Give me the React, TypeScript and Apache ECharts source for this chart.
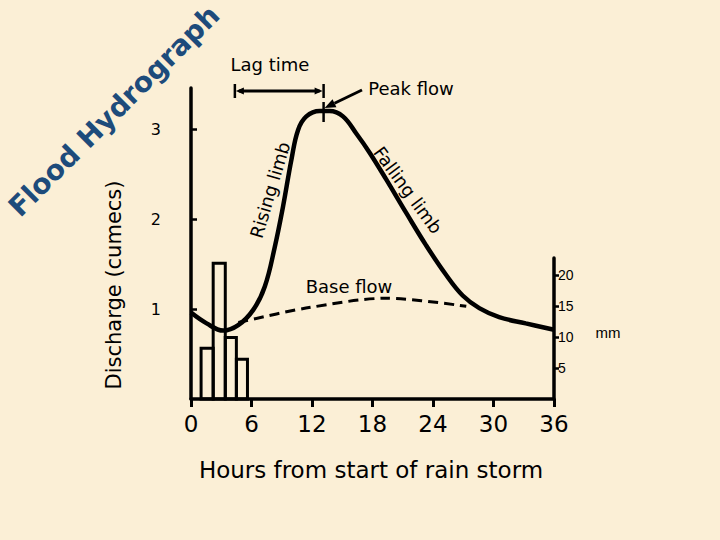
import React, { useEffect, useRef } from "react";
import * as echarts from "echarts";

// Hours from start of rain storm (x), discharge in cumecs (left y), rainfall in mm (right y)
const hourTicks = [0, 6, 12, 18, 24, 30, 36];
const dischargeTicks = [1, 2, 3];
const rainTicks = [5, 10, 15, 20];

// storm hydrograph: [hour, discharge]
const dischargeCurve: [number, number][] = [
  [0, 0.96], [1.55, 0.84], [3.2, 0.76], [4.68, 0.82], [6.17, 0.99], [7.32, 1.25],
  [8.31, 1.69], [9.13, 2.14], [9.96, 2.66], [10.62, 2.99], [11.44, 3.14], [12.76, 3.2],
  [13.75, 3.2], [15.07, 3.14], [16.39, 2.95], [17.7, 2.74], [19.36, 2.44], [21.33, 2.07],
  [23.3, 1.71], [25.29, 1.38], [26.94, 1.15], [28.59, 1.01], [30.56, 0.91], [33.2, 0.84],
  [36, 0.77],
];

// base flow (dashed): [hour, discharge]
const baseFlow: [number, number][] = [
  [4.7, 0.85], [11.4, 1.01], [19.4, 1.12], [27.3, 1.03],
];

// rainfall bars: [start hour, end hour, mm]
const rainfall: [number, number, number][] = [
  [1.0, 2.2, 8.2],
  [2.2, 3.4, 21.9],
  [3.4, 4.5, 9.9],
  [4.5, 5.6, 6.4],
];

const lagStartHour = 4.35;
const peakHour = 13.15;
const peakDischarge = 3.2;

const FONT = "DejaVu Sans";

export default function App() {
  const ref = useRef<HTMLDivElement>(null);

  useEffect(() => {
    if (!ref.current) return;
    const chart = echarts.init(ref.current, undefined, { renderer: "svg" });

    const option: any = {
      animation: false,
      backgroundColor: "#FBEFD6",
      grid: [
        { left: 191, top: 88, width: 363, height: 311 },
        { left: 191, top: 258, width: 363, height: 141 },
      ],
      xAxis: [
        {
          type: "value",
          gridIndex: 0,
          min: 0,
          max: 36,
          interval: 6,
          axisLine: { show: true, onZero: false, lineStyle: { color: "#000", width: 3.5 } },
          axisTick: { show: true, length: 8, customValues: hourTicks, lineStyle: { color: "#000", width: 3 } },
          axisLabel: { color: "#000", fontSize: 23, fontFamily: FONT, margin: 13, customValues: hourTicks },
          splitLine: { show: false },
        },
        { type: "value", gridIndex: 1, min: 0, max: 36, show: false },
      ],
      yAxis: [
        {
          type: "value",
          gridIndex: 0,
          min: 0,
          max: 311 / 90,
          axisLine: { show: true, onZero: false, lineStyle: { color: "#000", width: 3.5 } },
          axisTick: { show: true, inside: true, length: 6, customValues: dischargeTicks, lineStyle: { color: "#000", width: 2.5 } },
          axisLabel: { customValues: dischargeTicks, color: "#000", fontSize: 16, fontFamily: FONT, margin: 30 },
          splitLine: { show: false },
        },
        {
          type: "value",
          gridIndex: 1,
          position: "right",
          min: 0,
          max: 141 / 6.2,
          axisLine: { show: true, onZero: false, lineStyle: { color: "#000", width: 3.5 } },
          axisTick: { show: true, length: 5, customValues: rainTicks, lineStyle: { color: "#000", width: 2.5 } },
          axisLabel: { customValues: rainTicks, color: "#000", fontSize: 14, fontFamily: "Liberation Sans", margin: 4 },
          splitLine: { show: false },
        },
      ],
      series: [
        {
          type: "custom",
          xAxisIndex: 1,
          yAxisIndex: 1,
          data: rainfall,
          encode: { x: [0, 1], y: 2 },
          renderItem: (params: any, api: any) => {
            const s = api.coord([api.value(0), 0]);
            const e = api.coord([api.value(1), api.value(2)]);
            return {
              type: "rect",
              shape: { x: s[0], y: e[1], width: e[0] - s[0], height: s[1] - e[1] },
              style: { fill: "transparent", stroke: "#000", lineWidth: 3 },
            };
          },
        },
        {
          type: "line",
          xAxisIndex: 0,
          yAxisIndex: 0,
          data: dischargeCurve,
          smooth: 0.4,
          showSymbol: false,
          lineStyle: { color: "#000", width: 4.5 },
        },
        {
          type: "line",
          xAxisIndex: 0,
          yAxisIndex: 0,
          data: baseFlow,
          smooth: 0.3,
          showSymbol: false,
          lineStyle: { color: "#000", width: 3, type: [10, 6] },
        },
      ],
    };
    chart.setOption(option);

    const px = (h: number, v: number) =>
      chart.convertToPixel({ xAxisIndex: 0, yAxisIndex: 0 }, [h, v]) as number[];
    const lagA = px(lagStartHour, 0);
    const peak = px(peakHour, peakDischarge);
    const x1 = lagA[0];
    const x2 = peak[0];
    const ly = 91;

    const tip = [peak[0] + 1, peak[1] - 3];
    const from = [362, 90];
    const dx = tip[0] - from[0];
    const dy = tip[1] - from[1];
    const len = Math.hypot(dx, dy);
    const ux = dx / len;
    const uy = dy / len;
    const bx = tip[0] - ux * 11;
    const by = tip[1] - uy * 11;
    const pxp = -uy * 4.5;
    const pyp = ux * 4.5;

    const txt = (text: string, x: number, y: number, size: number, extra: any = {}) => ({
      type: "text",
      x,
      y,
      rotation: extra.rotation || 0,
      style: {
        text,
        fontSize: size,
        fontFamily: extra.fontFamily || FONT,
        fontWeight: extra.fontWeight || "normal",
        fill: extra.fill || "#000",
        align: "center",
        verticalAlign: "middle",
      },
    });

    chart.setOption({
      graphic: [
        txt("Flood Hydrograph", 114, 111, 28, { rotation: Math.PI / 4, fontWeight: "bold", fill: "#1D4B7B" }),
        txt("Lag time", 270, 64, 18),
        txt("Peak flow", 411, 88, 18),
        txt("Base flow", 349, 286, 18),
        txt("Rising limb", 270, 190, 18, { rotation: 1.28 }),
        txt("Falling limb", 408, 190, 18, { rotation: -0.94 }),
        txt("Hours from start of rain storm", 371, 470, 23),
        txt("Discharge (cumecs)", 114, 285, 21, { rotation: Math.PI / 2 }),
        txt("mm", 608, 332, 15, { fontFamily: "Liberation Sans" }),
        { type: "line", shape: { x1: x1 + 4, y1: ly, x2: x2 - 4, y2: ly }, style: { stroke: "#000", lineWidth: 3 } },
        { type: "line", shape: { x1: x1, y1: ly - 7, x2: x1, y2: ly + 7 }, style: { stroke: "#000", lineWidth: 2.5 } },
        { type: "line", shape: { x1: x2, y1: ly - 7, x2: x2, y2: ly + 7 }, style: { stroke: "#000", lineWidth: 2.5 } },
        { type: "polygon", shape: { points: [[x1 + 1, ly], [x1 + 9, ly - 3.5], [x1 + 9, ly + 3.5]] }, style: { fill: "#000" } },
        { type: "polygon", shape: { points: [[x2 - 1, ly], [x2 - 9, ly - 3.5], [x2 - 9, ly + 3.5]] }, style: { fill: "#000" } },
        { type: "line", shape: { x1: peak[0], y1: peak[1] - 9, x2: peak[0], y2: peak[1] + 11 }, style: { stroke: "#000", lineWidth: 2.5 } },
        { type: "line", shape: { x1: from[0], y1: from[1], x2: bx, y2: by }, style: { stroke: "#000", lineWidth: 3 } },
        { type: "polygon", shape: { points: [[tip[0], tip[1]], [bx + pxp, by + pyp], [bx - pxp, by - pyp]] }, style: { fill: "#000" } },
      ],
    });

    return () => chart.dispose();
  }, []);

  return <div ref={ref} style={{ position: "fixed", left: 0, top: 0, width: 720, height: 540 }} />;
}
